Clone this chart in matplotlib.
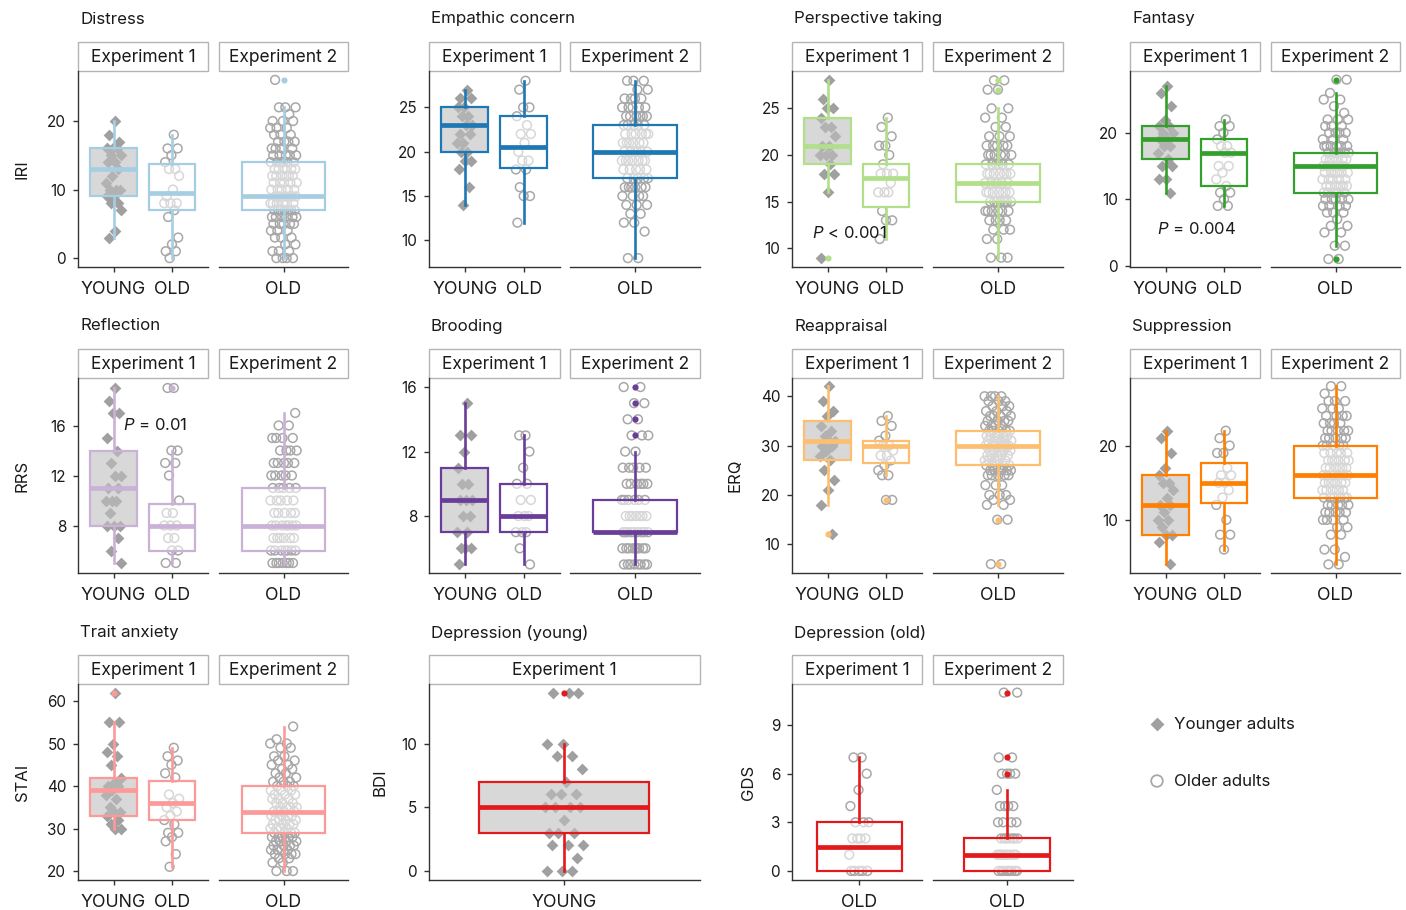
import numpy as np
import matplotlib
matplotlib.use("Agg")
import matplotlib.pyplot as plt
from matplotlib.patches import Rectangle

FONT = "Inter"
plt.rcParams['font.family'] = [FONT, 'DejaVu Sans']
plt.rcParams['mathtext.fontset'] = 'custom'
plt.rcParams['mathtext.it'] = FONT + ':italic'
plt.rcParams['mathtext.rm'] = FONT

# ---------------- data ----------------
# Box stats are [whisker low, q1, median, q3, whisker high]
# Distress (IRI)
dis_y1 = [20, 18, 17, 16, 16, 16, 15, 15, 14, 14, 13, 12, 11, 10, 10, 10, 9, 9, 8, 8, 7, 4, 3]
dis_o1 = [18, 16, 16, 15, 14, 13, 13, 12, 10, 9, 8, 8, 8, 7, 6, 3, 2, 1, 1, 0]
dis_o2_vals = [0, 1, 2, 3, 4, 5, 6, 7, 8, 9, 10, 11, 12, 13, 14, 15, 16, 17, 18, 19, 20, 21, 22, 26]
dis_o2_cnts = [4, 3, 2, 3, 3, 5, 6, 7, 6, 6, 5, 5, 6, 5, 6, 5, 4, 4, 3, 3, 3, 1, 3, 1]
dis_box_y1 = [3, 9, 13, 16, 20]
dis_box_o1 = [0, 7, 9.5, 13.75, 18]
dis_box_o2 = [0, 7, 9, 14, 22]
dis_fl_o2 = [26]

# Empathic concern (IRI)
emp_y1 = [27, 26, 26, 25, 25, 24, 24, 23, 23, 22, 22, 21, 21, 20, 20, 19, 19, 18, 16, 14]
emp_o1 = [28, 27, 25, 25, 24, 23, 22, 22, 21, 20, 19, 19, 18, 18, 16, 15, 15, 12]
emp_o2_vals = [8, 11, 12, 13, 14, 15, 16, 17, 18, 19, 20, 21, 22, 23, 24, 25, 26, 27, 28]
emp_o2_cnts = [2, 1, 2, 2, 3, 4, 6, 5, 5, 7, 6, 6, 6, 5, 6, 5, 4, 2, 3]
emp_box_y1 = [14, 20, 23, 25, 27]
emp_box_o1 = [12, 18.2, 20.5, 24, 28]
emp_box_o2 = [8, 17, 20, 23, 28]

# Perspective taking (IRI)
per_y1 = [28, 26, 25, 25, 24, 23, 23, 22, 21, 21, 20, 20, 20, 19, 18, 18, 16, 9]
per_o1 = [24, 23, 22, 21, 21, 20, 19, 18, 18, 18, 17, 16, 16, 16, 14, 13, 13, 11]
per_o2_vals = [9, 11, 12, 13, 14, 15, 16, 17, 18, 19, 20, 21, 22, 23, 24, 25, 27, 28]
per_o2_cnts = [3, 2, 3, 4, 6, 7, 7, 6, 7, 6, 6, 5, 3, 2, 2, 2, 2, 2]
per_box_y1 = [16, 19, 21, 24, 28]
per_box_o1 = [11, 14.4, 17.5, 19, 24]
per_box_o2 = [9, 15, 17, 19, 25]
per_fl_y1 = [9]
per_fl_o2 = [27, 28]

# Fantasy (IRI)
fan_y1 = [27, 26, 24, 22, 21, 21, 20, 20, 19, 19, 18, 18, 17, 16, 15, 15, 13, 13, 11]
fan_o1 = [22, 21, 21, 20, 19, 18, 18, 17, 17, 15, 15, 14, 13, 12, 11, 11, 10, 9, 9]
fan_o2_vals = [1, 3, 5, 6, 7, 8, 9, 10, 11, 12, 13, 14, 15, 16, 17, 18, 19, 20, 21, 22, 23, 24, 25, 26, 28]
fan_o2_cnts = [2, 2, 2, 2, 1, 3, 4, 5, 5, 6, 5, 6, 5, 6, 5, 6, 3, 4, 3, 3, 1, 1, 2, 1, 2]
fan_box_y1 = [11, 16, 19, 21, 27]
fan_box_o1 = [9, 12, 17, 19, 22]
fan_box_o2 = [3, 11, 15, 17, 26]
fan_fl_o2 = [1, 28]

# Reflection (RRS)
ref_y1 = [19, 18, 17, 17, 15, 14, 13, 12, 12, 11, 11, 10, 10, 10, 9, 8, 8, 8, 7, 6, 5]
ref_o1 = [19, 19, 14, 14, 13, 13, 12, 10, 9, 9, 8, 8, 8, 7, 7, 6, 6, 5, 5]
ref_o2_vals = [5, 6, 7, 8, 9, 10, 11, 12, 13, 14, 15, 16, 17]
ref_o2_cnts = [7, 7, 6, 7, 5, 5, 5, 5, 5, 4, 4, 2, 1]
ref_box_y1 = [5, 8, 11, 14, 19]
ref_box_o1 = [5, 6, 8, 9.7, 14]
ref_box_o2 = [5, 6, 8, 11, 17]
ref_fl_o1 = [19]

# Brooding (RRS)
bro_y1 = [15, 13, 13, 12, 11, 10, 10, 9, 9, 9, 8, 8, 7, 7, 6, 6, 6, 5]
bro_o1 = [13, 13, 12, 11, 10, 10, 9, 9, 8, 8, 8, 7, 7, 7, 6, 5]
bro_o2_vals = [5, 6, 7, 8, 9, 10, 11, 12, 13, 14, 15, 16]
bro_o2_cnts = [8, 9, 9, 7, 6, 6, 5, 2, 3, 2, 2, 2]
bro_box_y1 = [5, 7, 9, 11, 15]
bro_box_o1 = [5, 7, 8, 10, 13]
bro_box_o2 = [5, 7, 7, 9, 12]
bro_fl_o2 = [13, 14, 15, 16]

# Reappraisal (ERQ)
rea_y1 = [42, 39, 37, 36, 34, 33, 32, 31, 31, 30, 30, 29, 28, 27, 25, 23, 21, 18, 12]
rea_o1 = [36, 35, 34, 32, 31, 30, 30, 29, 28, 28, 27, 26, 25, 24, 24, 19, 19]
rea_o2_vals = [6, 15, 18, 19, 20, 22, 24, 25, 26, 27, 28, 29, 30, 31, 32, 33, 34, 35, 36, 37, 38, 39, 40]
rea_o2_cnts = [2, 2, 2, 2, 3, 3, 5, 5, 5, 5, 5, 5, 6, 6, 5, 5, 4, 4, 4, 3, 3, 3, 4]
rea_box_y1 = [18, 27, 31, 35, 42]
rea_box_o1 = [24, 26.5, 30, 31, 36]
rea_box_o2 = [18, 26, 30, 33, 40]
rea_fl_y1 = [12]
rea_fl_o1 = [19]
rea_fl_o2 = [6, 15]

# Suppression (ERQ)
sup_y1 = [22, 21, 19, 17, 16, 15, 15, 14, 13, 12, 12, 11, 10, 10, 9, 8, 8, 7, 4]
sup_o1 = [22, 21, 20, 19, 19, 17, 16, 16, 15, 15, 14, 13, 12, 10, 8, 8, 6]
sup_o2_vals = [4, 5, 6, 8, 9, 10, 11, 12, 13, 14, 15, 16, 17, 18, 19, 20, 21, 22, 23, 24, 25, 26, 27, 28]
sup_o2_cnts = [2, 1, 2, 2, 2, 4, 5, 5, 6, 6, 6, 6, 6, 6, 5, 5, 5, 5, 4, 4, 3, 3, 1, 2]
sup_box_y1 = [4, 8, 12, 16, 22]
sup_box_o1 = [6, 12.2, 15, 17.7, 22]
sup_box_o2 = [4, 13, 16, 20, 28]

# Trait anxiety (STAI)
sta_y1 = [62, 55, 55, 50, 48, 47, 45, 42, 41, 40, 40, 39, 38, 37, 35, 34, 34, 33, 32, 31, 30, 30]
sta_o1 = [49, 47, 46, 45, 43, 42, 38, 37, 36, 35, 34, 33, 32, 31, 29, 29, 28, 27, 24, 21]
sta_o2_vals = [20, 22, 23, 24, 25, 26, 27, 28, 29, 30, 31, 32, 33, 34, 35, 36, 37, 38, 39, 40,
               41, 42, 43, 44, 45, 46, 47, 49, 50, 51, 54]
sta_o2_cnts = [3, 2, 2, 4, 4, 4, 4, 5, 4, 4, 4, 4, 4, 4, 4, 3, 3, 3, 3, 3,
               3, 2, 2, 2, 2, 2, 2, 2, 2, 1, 1]
sta_box_y1 = [30, 33, 39, 42, 55]
sta_box_o1 = [21, 32, 36, 41.2, 49]
sta_box_o2 = [20, 29, 34, 40, 54]
sta_fl_y1 = [62]

# Depression young (BDI)
bdi_y1 = [14, 14, 14, 10, 10, 9, 9, 8, 7, 6, 6, 6, 5, 5, 5, 5, 4, 3, 3, 3, 2, 2, 2, 1, 0, 0, 0]
bdi_box_y1 = [0, 3, 5, 7, 10]
bdi_fl_y1 = [14]

# Depression old (GDS)
gds_o1 = [7, 7, 6, 5, 4, 3, 3, 3, 2, 2, 2, 2, 1, 0, 0, 0, 0, 0]
gds_o2_vals = [0, 1, 2, 3, 4, 5, 6, 7, 11]
gds_o2_cnts = [9, 9, 7, 4, 4, 1, 4, 2, 2]
gds_box_o1 = [0, 0, 1.5, 3, 7]
gds_box_o2 = [0, 0, 1, 2, 5]
gds_fl_o2 = [6, 7, 11]

# Paired palette colours
C_DIS, C_EMP, C_PER, C_FAN = '#a6cee3', '#1f78b4', '#b2df8a', '#33a02c'
C_REF, C_BRO, C_REA, C_SUP = '#cab2d6', '#6a3d9a', '#fdbf6f', '#ff7f00'
C_STA, C_DEP = '#fb9a99', '#e31a1c'

# ---------------- drawing ----------------
W, H = 1406, 910
fig = plt.figure(figsize=(W / 100, H / 100), dpi=100)
ov = fig.add_axes([0, 0, 1, 1])
ov.set_xlim(0, W)
ov.set_ylim(H, 0)
ov.axis('off')

TXT = '#1a1a1a'
SPINE = '#333333'
FS_TITLE = 12.2
FS_YLAB = 12
FS_XT = 12.8
FS_YT = 11
FS_HEAD = 12.5


def add_ax(x0, x1, y0, y1):
    return fig.add_axes([x0 / W, 1 - y1 / H, (x1 - x0) / W, (y1 - y0) / H])


def header(x0, x1, y0, y1, label):
    ov.add_patch(Rectangle((x0, y0), x1 - x0, y1 - y0, facecolor='white',
                           edgecolor='#b4b4b4', lw=1.0))
    ov.text((x0 + x1) / 2, (y0 + y1) / 2 + 1, label, ha='center', va='center',
            fontsize=FS_HEAD, color=TXT)


def draw_group(ax, pos, vals, box, fliers, color, young, jw):
    vals = np.asarray(vals, float)
    n = len(vals)
    offs = (((np.arange(n) + 1) * 0.6180339887) % 1 - 0.5) * 2 * jw
    if young:
        ax.scatter(pos + offs, vals, marker='D', s=36, color='#a0a0a0',
                   linewidths=0, zorder=2)
        face = (0.75, 0.75, 0.75, 0.6)
    else:
        ax.scatter(pos + offs, vals, marker='o', s=40, facecolors='none',
                   edgecolors='#a8a8a8', linewidths=1.1, zorder=2)
        face = (1, 1, 1, 0.55)
    st = dict(whislo=box[0], q1=box[1], med=box[2], q3=box[3], whishi=box[4], fliers=[])
    ax.bxp([st], positions=[pos], widths=0.8, patch_artist=True, showcaps=False,
           showfliers=False, manage_ticks=False,
           boxprops=dict(facecolor=face, edgecolor=color, linewidth=1.6),
           medianprops=dict(color=color, linewidth=3.4, solid_capstyle='butt'),
           whiskerprops=dict(color=color, linewidth=1.9), zorder=3)
    if fliers:
        ax.scatter([pos] * len(fliers), fliers, s=20, color=color, linewidths=0, zorder=4)


def style_ax(ax, ylim, yticks, xlim, xticks, xlabels, show_y):
    ax.set_ylim(ylim)
    ax.set_xlim(xlim)
    ax.set_xticks(xticks)
    ax.set_xticklabels(xlabels, fontsize=FS_XT, color=TXT)
    ax.spines['top'].set_visible(False)
    ax.spines['right'].set_visible(False)
    ax.spines['bottom'].set_color(SPINE)
    ax.spines['bottom'].set_linewidth(1.0)
    ax.tick_params(axis='x', length=3.5, width=1, color=SPINE, pad=6.5)
    if show_y:
        ax.spines['left'].set_color(SPINE)
        ax.spines['left'].set_linewidth(1.0)
        ax.set_yticks(yticks)
        ax.set_yticklabels([str(t) for t in yticks], fontsize=FS_YT, color=TXT)
        ax.tick_params(axis='y', length=3.5, width=1, color=SPINE, pad=5)
    else:
        ax.spines['left'].set_visible(False)
        ax.set_yticks([])
    ax.patch.set_alpha(0)


ROWS = [(42, 71, 267), (349, 378, 573), (655, 684, 880)]
COLS = [((78, 208), (219, 348)), ((429, 560), (570, 700)),
        ((792, 922), (933, 1063)), ((1130, 1260), (1271, 1400))]
TITLE_Y = [19, 326, 633]
XL2 = (-0.61, 1.62)
XL1 = (-0.625, 0.625)


def panel(row, col, title, ylab, ylab_x, color, ylim, yticks,
          y1, o1, o2v, o2n, by1, bo1, bo2, fy1=None, fo1=None, fo2=None, ptext=None):
    hy0, ay0, ay1 = ROWS[row]
    (e1x0, e1x1), (e2x0, e2x1) = COLS[col]
    header(e1x0, e1x1, hy0, ay0, 'Experiment 1')
    header(e2x0, e2x1, hy0, ay0, 'Experiment 2')
    ov.text(e1x0 + 2, TITLE_Y[row], title, ha='left', va='center', fontsize=FS_TITLE, color=TXT)
    if ylab:
        ov.text(ylab_x, (ay0 + ay1) / 2, ylab, rotation=90, ha='center', va='center',
                fontsize=FS_YLAB, color=TXT)
    ax1 = add_ax(e1x0, e1x1, ay0, ay1)
    draw_group(ax1, 0, y1, by1, fy1, color, True, 0.14)
    draw_group(ax1, 1, o1, bo1, fo1, color, False, 0.14)
    style_ax(ax1, ylim, yticks, XL2, [0, 1], ['YOUNG', 'OLD'], True)
    if ptext:
        px, py, s = ptext
        ax1.text(px, py, s, ha='left', va='center', fontsize=12, color=TXT, zorder=6)
    ax2 = add_ax(e2x0, e2x1, ay0, ay1)
    draw_group(ax2, 0, np.repeat(o2v, o2n), bo2, fo2, color, False, 0.13)
    style_ax(ax2, ylim, yticks, XL1, [0], ['OLD'], False)


panel(0, 0, 'Distress', 'IRI', 22, C_DIS, (-1.3, 27.3), [0, 10, 20],
      dis_y1, dis_o1, dis_o2_vals, dis_o2_cnts, dis_box_y1, dis_box_o1, dis_box_o2,
      fo2=dis_fl_o2)
panel(0, 1, 'Empathic concern', None, 0, C_EMP, (7.0, 29.1), [10, 15, 20, 25],
      emp_y1, emp_o1, emp_o2_vals, emp_o2_cnts, emp_box_y1, emp_box_o1, emp_box_o2)
panel(0, 2, 'Perspective taking', None, 0, C_PER, (8.0, 29.0), [10, 15, 20, 25],
      per_y1, per_o1, per_o2_vals, per_o2_cnts, per_box_y1, per_box_o1, per_box_o2,
      fy1=per_fl_y1, fo2=per_fl_o2, ptext=(-0.27, 11.6, r'$\mathit{P}$ < 0.001'))
panel(0, 3, 'Fantasy', None, 0, C_FAN, (-0.2, 29.3), [0, 10, 20],
      fan_y1, fan_o1, fan_o2_vals, fan_o2_cnts, fan_box_y1, fan_box_o1, fan_box_o2,
      fo2=fan_fl_o2, ptext=(-0.15, 5.5, r'$\mathit{P}$ = 0.004'))
panel(1, 0, 'Reflection', 'RRS', 22, C_REF, (4.2, 19.8), [8, 12, 16],
      ref_y1, ref_o1, ref_o2_vals, ref_o2_cnts, ref_box_y1, ref_box_o1, ref_box_o2,
      fo1=ref_fl_o1, ptext=(0.16, 16.0, r'$\mathit{P}$ = 0.01'))
panel(1, 1, 'Brooding', None, 0, C_BRO, (4.47, 16.56), [8, 12, 16],
      bro_y1, bro_o1, bro_o2_vals, bro_o2_cnts, bro_box_y1, bro_box_o1, bro_box_o2,
      fo2=bro_fl_o2)
panel(1, 2, 'Reappraisal', 'ERQ', 735, C_REA, (4.2, 43.7), [10, 20, 30, 40],
      rea_y1, rea_o1, rea_o2_vals, rea_o2_cnts, rea_box_y1, rea_box_o1, rea_box_o2,
      fy1=rea_fl_y1, fo1=rea_fl_o1, fo2=rea_fl_o2)
panel(1, 3, 'Suppression', None, 0, C_SUP, (2.84, 29.1), [10, 20],
      sup_y1, sup_o1, sup_o2_vals, sup_o2_cnts, sup_box_y1, sup_box_o1, sup_box_o2)
panel(2, 0, 'Trait anxiety', 'STAI', 22, C_STA, (17.9, 64.0), [20, 30, 40, 50, 60],
      sta_y1, sta_o1, sta_o2_vals, sta_o2_cnts, sta_box_y1, sta_box_o1, sta_box_o2,
      fy1=sta_fl_y1)

# Depression (young): single facet
hy0, ay0, ay1 = ROWS[2]
header(429, 700, hy0, ay0, 'Experiment 1')
ov.text(431, TITLE_Y[2], 'Depression (young)', ha='left', va='center', fontsize=FS_TITLE, color=TXT)
ov.text(380, (ay0 + ay1) / 2, 'BDI', rotation=90, ha='center', va='center', fontsize=FS_YLAB, color=TXT)
axb = add_ax(429, 700, ay0, ay1)
draw_group(axb, 0, bdi_y1, bdi_box_y1, bdi_fl_y1, C_DEP, True, 0.095)
style_ax(axb, (-0.71, 14.67), [0, 5, 10], (-0.635, 0.64), [0], ['YOUNG'], True)

# Depression (old)
header(792, 922, hy0, ay0, 'Experiment 1')
header(933, 1063, hy0, ay0, 'Experiment 2')
ov.text(794, TITLE_Y[2], 'Depression (old)', ha='left', va='center', fontsize=FS_TITLE, color=TXT)
ov.text(748, (ay0 + ay1) / 2, 'GDS', rotation=90, ha='center', va='center', fontsize=FS_YLAB, color=TXT)
axg1 = add_ax(792, 922, ay0, ay1)
draw_group(axg1, 0, gds_o1, gds_box_o1, None, C_DEP, False, 0.1)
style_ax(axg1, (-0.56, 11.53), [0, 3, 6, 9], (-0.63, 0.59), [0], ['OLD'], True)
axg2 = add_ax(933, 1073, ay0, ay1)
draw_group(axg2, 0, np.repeat(gds_o2_vals, gds_o2_cnts), gds_box_o2, gds_fl_o2, C_DEP, False, 0.1)
style_ax(axg2, (-0.56, 11.53), [0, 3, 6, 9], (-0.69, 0.61), [0], ['OLD'], False)

# Legend
ov.scatter([1157], [724], marker='D', s=50, color='#a0a0a0', linewidths=0)
ov.scatter([1157], [781], marker='o', s=70, facecolors='none', edgecolors='#a8a8a8', linewidths=1.3)
ov.text(1174, 725, 'Younger adults', ha='left', va='center', fontsize=12.2, color=TXT)
ov.text(1174, 782, 'Older adults', ha='left', va='center', fontsize=12.2, color=TXT)

fig.savefig('out.png', dpi=100)
